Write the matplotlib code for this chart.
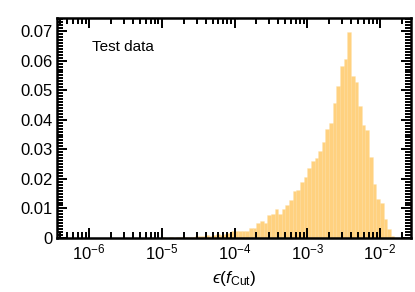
import numpy as np
import matplotlib
matplotlib.use("Agg")
from matplotlib import pyplot as plt
from matplotlib.ticker import FixedLocator, MultipleLocator, LogLocator, FuncFormatter, NullFormatter

plt.rcParams['font.family'] = ['Liberation Sans', 'DejaVu Sans']
plt.rcParams['mathtext.fontset'] = 'custom'
plt.rcParams['mathtext.rm'] = 'Liberation Sans'
plt.rcParams['mathtext.it'] = 'Liberation Sans:italic'
plt.rcParams['mathtext.bf'] = 'Liberation Sans:bold'

# histogram of eps(f_Cut), 20 log bins per decade from 1e-5 to ~1.6e-2
bin_exp_lo = -5.0
bin_exp_hi = -1.80
fractions = [
    0.0002, 0.0000, 0.0003, 0.0001, 0.0002, 0.0004, 0.0003, 0.0005,
    0.0004, 0.0006, 0.0008, 0.0007, 0.0009, 0.0008, 0.0010, 0.0012,
    0.0011, 0.0014, 0.0017, 0.0022, 0.0022, 0.0022, 0.0023, 0.0023,
    0.0035, 0.0035, 0.0050, 0.0059, 0.0050, 0.0077, 0.0080, 0.0097,
    0.0082, 0.0097, 0.0111, 0.0130, 0.0159, 0.0164, 0.0188, 0.0208,
    0.0238, 0.0260, 0.0270, 0.0293, 0.0324, 0.0368, 0.0388, 0.0457,
    0.0514, 0.0581, 0.0605, 0.0697, 0.0548, 0.0527, 0.0446, 0.0382,
    0.0364, 0.0274, 0.0184, 0.0133, 0.0118, 0.0065, 0.0031, 0.0008,
]
y_ticks = [0, 0.01, 0.02, 0.03, 0.04, 0.05, 0.06, 0.07]

edges = np.logspace(bin_exp_lo, bin_exp_hi, len(fractions) + 1)

fig = plt.figure(figsize=(4.15, 2.92), dpi=100)
ax = fig.add_axes([0.137, 0.185, 0.853, 0.753])

ax.bar(edges[:-1], fractions, width=np.diff(edges), align='edge',
       color='orange', alpha=0.5, edgecolor='#fde3b0', linewidth=0.4)

ax.set_xscale('log')
ax.set_xlim(3.6e-7, 2.66e-2)
ax.set_ylim(0, 0.0744)

ax.yaxis.set_major_locator(FixedLocator(y_ticks))
ax.yaxis.set_minor_locator(MultipleLocator(0.001))
ax.yaxis.set_major_formatter(FuncFormatter(lambda v, p: '0' if v == 0 else f'{v:.2f}'))
ax.xaxis.set_major_locator(LogLocator(base=10, numticks=20))
ax.xaxis.set_minor_locator(LogLocator(base=10, subs=np.arange(2, 10), numticks=20))
ax.xaxis.set_minor_formatter(NullFormatter())

for s in ax.spines.values():
    s.set_linewidth(1.8)
ax.tick_params(which='both', direction='in', top=True, right=True,
               labelsize=12, width=1.4)
ax.tick_params(which='major', length=7, pad=3)
ax.tick_params(which='minor', length=4)

ax.text(0.099, 0.868, 'Test data', transform=ax.transAxes, fontsize=11, va='center')
ax.set_xlabel('$\u03f5(f_{\\mathrm{Cut}})$', fontsize=12.5, labelpad=5)

fig.savefig('out.png', dpi=100)
